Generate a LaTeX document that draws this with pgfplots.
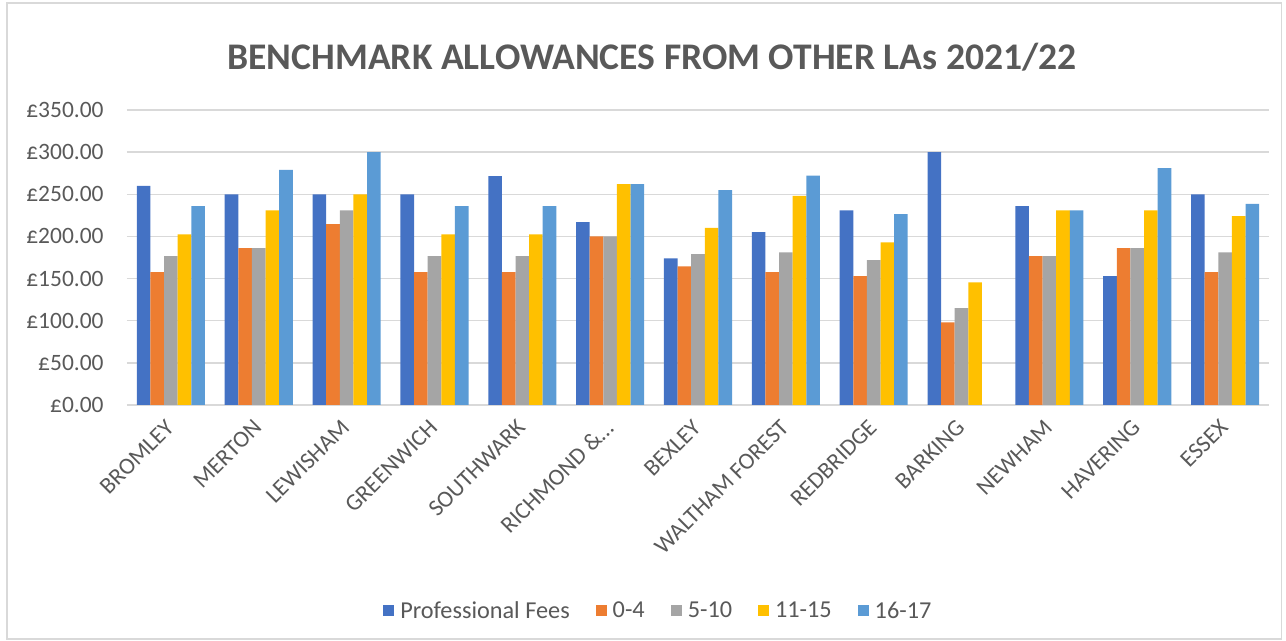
\documentclass[border=0pt]{standalone}
\usepackage{pgfplots}
\pgfplotsset{compat=1.18}
\usepackage{fontspec}
\setmainfont{Carlito}
\definecolor{cA}{HTML}{4472C4}
\definecolor{cB}{HTML}{ED7D31}
\definecolor{cC}{HTML}{A5A5A5}
\definecolor{cD}{HTML}{FFC000}
\definecolor{cE}{HTML}{5B9BD5}
\definecolor{txt}{HTML}{595959}
\definecolor{grd}{HTML}{D9D9D9}
\begin{document}
\begin{tikzpicture}
\useasboundingbox (0pt,0pt) rectangle (964.5pt,480.75pt);
\draw[grd, line width=0.8pt] (5.25pt,1.5pt) rectangle (961pt,478.5pt);
\node[font=\fontsize{28.2}{30}\selectfont\bfseries, text=txt] at (489pt,438pt) {BENCHMARK ALLOWANCES FROM OTHER LAs 2021/22};
\begin{axis}[
  at={(95.25pt,177pt)}, anchor=south west,
  width=856.5pt, height=221.25pt, scale only axis,
  xmin=-0.5, xmax=12.5, ymin=0, ymax=350,
  ytick={0,50,...,350},
  yticklabels={£0.00,£50.00,£100.00,£150.00,£200.00,£250.00,£300.00,£350.00},
  xtick={0,...,12},
  xticklabels={BROMLEY,MERTON,LEWISHAM,GREENWICH,SOUTHWARK,RICHMOND \&…,BEXLEY,WALTHAM FOREST,REDBRIDGE,BARKING,NEWHAM,HAVERING,ESSEX},
  major tick length=0pt,
  axis line style={draw=none},
  ymajorgrids, major grid style={grd, line width=1.1pt},
  tick label style={font=\fontsize{17.6}{19}\selectfont, text=txt},
  yticklabel style={xshift=-14pt},
  xticklabel style={rotate=45, anchor=north east, xshift=-7pt, yshift=0pt},
  ybar, bar width=0.155,
  legend columns=5,
  legend style={draw=none, at={(0.467,-0.698)}, anchor=center,
    font=\fontsize{18.2}{20}\selectfont, text=txt,
    nodes={inner xsep=4.5pt},
    /tikz/every even column/.append style={column sep=15pt}},
  legend image code/.code={\fill[#1] (0pt,-4.1pt) rectangle (8.25pt,4.1pt);},
]
\addplot[fill=cA, draw=none, bar shift=-0.31] coordinates {(0,260) (1,250) (2,250) (3,250) (4,271.5) (5,217) (6,174) (7,205) (8,231) (9,300) (10,236) (11,153) (12,250)};
\addplot[fill=cB, draw=none, bar shift=-0.155] coordinates {(0,157.5) (1,186) (2,214.5) (3,157.5) (4,157.5) (5,200) (6,164.5) (7,157.5) (8,153) (9,98) (10,176.5) (11,186) (12,157.5)};
\addplot[fill=cC, draw=none, bar shift=0] coordinates {(0,176.5) (1,186) (2,231) (3,176.5) (4,176.5) (5,200) (6,179) (7,181) (8,172) (9,115) (10,176.5) (11,186) (12,181)};
\addplot[fill=cD, draw=none, bar shift=0.155] coordinates {(0,202.5) (1,231) (2,250) (3,202.5) (4,202.5) (5,262) (6,210) (7,248) (8,193) (9,145.5) (10,231) (11,231) (12,224)};
\addplot[fill=cE, draw=none, bar shift=0.31] coordinates {(0,236) (1,279) (2,300) (3,236) (4,236) (5,262) (6,255) (7,272) (8,226.5) (10,231) (11,281) (12,238.5)};
\legend{Professional Fees,0-4,5-10,11-15,16-17}
\end{axis}
\end{tikzpicture}
\end{document}
